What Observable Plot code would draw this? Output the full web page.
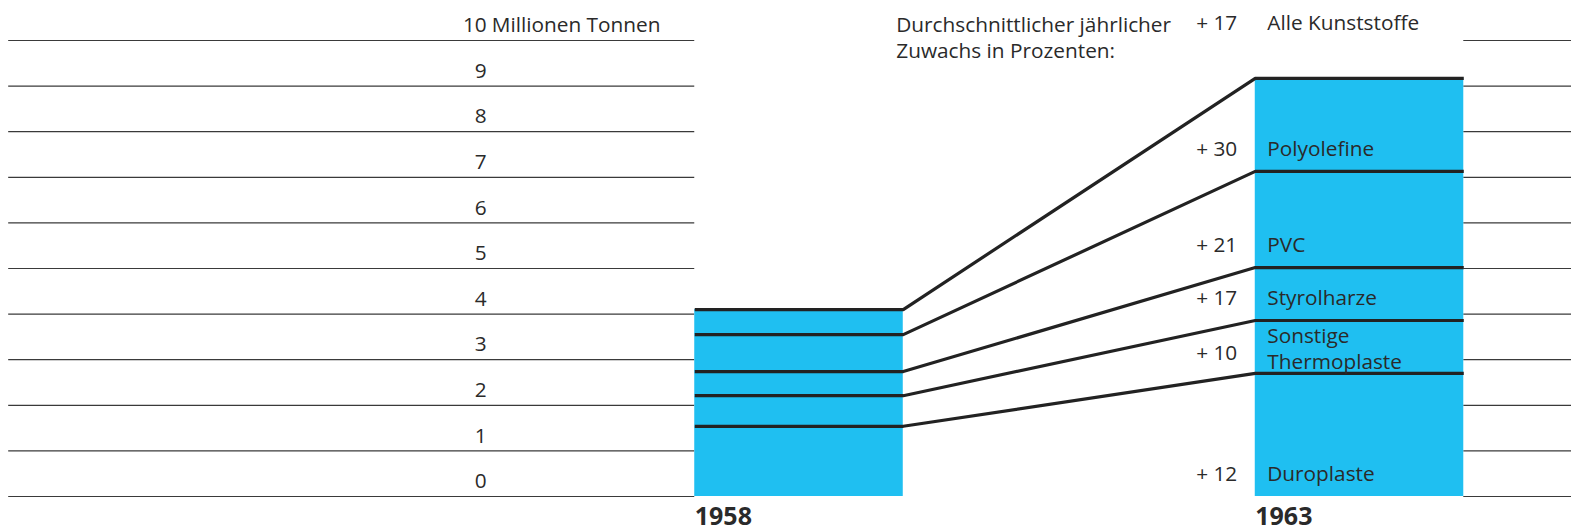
<!DOCTYPE html>
<html>
<head>
<meta charset="utf-8">
<script src="https://cdn.jsdelivr.net/npm/d3@7"></script>
<script src="https://cdn.jsdelivr.net/npm/@observablehq/plot@0.6"></script>
<style>
  html, body { margin: 0; padding: 0; background: #ffffff; }
  #chart svg { display: block; }
</style>
</head>
<body>
<div id="chart"></div>
<script>
// ---- data ----
const years = [1958, 1963];
const categories = ["Duroplaste", "Sonstige\nThermoplaste", "Styrolharze", "PVC", "Polyolefine"];
const values1958 = [1.54, 0.67, 0.53, 0.81, 0.55];   // Millionen Tonnen
const values1963 = [2.70, 1.16, 1.16, 2.11, 2.04];   // Millionen Tonnen
const growthLabels = ["+ 12", "+ 10", "+ 17", "+ 21", "+ 30"];
const totalLabel = "Alle Kunststoffe";
const totalGrowth = "+ 17";
const tickValues = [0, 1, 2, 3, 4, 5, 6, 7, 8, 9, 10];
const tickLabels = ["0", "1", "2", "3", "4", "5", "6", "7", "8", "9", "10"];
const unitLabel = "Millionen Tonnen";
const headerLabel = "Durchschnittlicher jährlicher\nZuwachs in Prozenten:";

// ---- layout constants ----
const half = 0.93;               // half bar width in years
const xDomain = [1950.877, 1964.891];
const gridStart = 1950.95;
const barColor = "#1fbff1";
const ink = "#2a2a2a";
const fs = 20.8;

// ---- derived tables ----
const seriesByYear = {1958: values1958, 1963: values1963};
const segments = [];
const boundaries = [];
years.forEach(yr => {
  const vals = seriesByYear[yr];
  const cum = d3.cumsum(vals);
  vals.forEach((v, i) => {
    segments.push({year: yr, category: categories[i], y1: cum[i] - v, y2: cum[i]});
  });
});
const cum58 = d3.cumsum(values1958), cum63 = d3.cumsum(values1963);
categories.forEach((c, i) => {
  boundaries.push({k: i, x: years[0] - half, y: cum58[i]});
  boundaries.push({k: i, x: years[0] + half, y: cum58[i]});
  boundaries.push({k: i, x: years[1] - half, y: cum63[i]});
  boundaries.push({k: i, x: years[1] + half, y: cum63[i]});
});
const ticks = tickValues.map((v, i) => ({v, label: tickLabels[i]}));
const labels63 = categories.map((c, i) => ({
  category: c, growth: growthLabels[i], base: cum63[i] - values1963[i]
}));
const single = labels63.filter(d => !d.category.includes("\n"));
const multi = labels63.filter(d => d.category.includes("\n"));

const L58 = years[0] - half, R58 = years[0] + half;
const L63 = years[1] - half, R63 = years[1] + half;

const chart = Plot.plot({
  width: 1571,
  height: 531,
  marginLeft: 0,
  marginRight: 0,
  marginTop: 40,
  marginBottom: 35,
  x: {domain: xDomain, axis: null},
  y: {domain: [0, 10], axis: null},
  style: {fontFamily: "'Open Sans', sans-serif", background: "#ffffff", color: ink},
  marks: [
    // gridlines left and right
    Plot.ruleY(ticks, {y: "v", x1: gridStart, x2: L58, stroke: "#3a3a3a", strokeWidth: 1.2}),
    Plot.ruleY(ticks, {y: "v", x1: R63, x2: xDomain[1], stroke: "#3a3a3a", strokeWidth: 1.2}),
    // stacked bars
    Plot.rect(segments, {x1: d => d.year - half, x2: d => d.year + half, y1: "y1", y2: "y2", fill: barColor}),
    // boundary and connecting lines
    Plot.line(boundaries, {x: "x", y: "y", z: "k", stroke: "#222222", strokeWidth: 3.2,
      strokeLinejoin: "miter", strokeLinecap: "butt", curve: "linear"}),
    // tick labels
    Plot.text(ticks, {x: L58, y: "v", text: "label", dx: -208, dy: -15, textAnchor: "end",
      fontSize: fs, fill: ink}),
    Plot.text([unitLabel], {x: L58, y: 10, text: d => d, dx: -203, dy: -15, textAnchor: "start",
      fontSize: fs, fill: ink}),
    // header
    Plot.text([headerLabel], {x: R58, y: 10, text: d => d, dx: -7, dy: -4, textAnchor: "start",
      lineAnchor: "middle", lineHeight: 1.28, fontSize: fs, fill: ink}),
    Plot.text([totalGrowth], {x: L63, y: 10, text: d => d, dx: -18, dy: -17.5, textAnchor: "end",
      fontSize: fs, fill: ink}),
    Plot.text([totalLabel], {x: L63, y: 10, text: d => d, dx: 12, dy: -17.5, textAnchor: "start",
      fontSize: fs, fill: ink}),
    // category labels inside 1963 bar
    Plot.text(single, {x: L63, y: "base", text: "category", dx: 12, dy: -22, textAnchor: "start",
      fontSize: fs, fill: ink}),
    Plot.text(single, {x: L63, y: "base", text: "growth", dx: -18, dy: -22, textAnchor: "end",
      fontSize: fs, fill: ink}),
    Plot.text(multi, {x: L63, y: "base", text: "category", dx: 12, dy: -26, textAnchor: "start",
      lineHeight: 1.25, fontSize: fs, fill: ink}),
    Plot.text(multi, {x: L63, y: "base", text: "growth", dx: -18, dy: -20, textAnchor: "end",
      fontSize: fs, fill: ink}),
    // year labels
    Plot.text(years, {x: d => d - half, y: 0, text: d => String(d), dy: 20, textAnchor: "start",
      fontSize: 25, fontWeight: "bold", fontFamily: "'Noto Sans', sans-serif", fill: ink,
      letterSpacing: "-1.5px"})
  ]
});
document.getElementById("chart").appendChild(chart);
</script>
</body>
</html>
